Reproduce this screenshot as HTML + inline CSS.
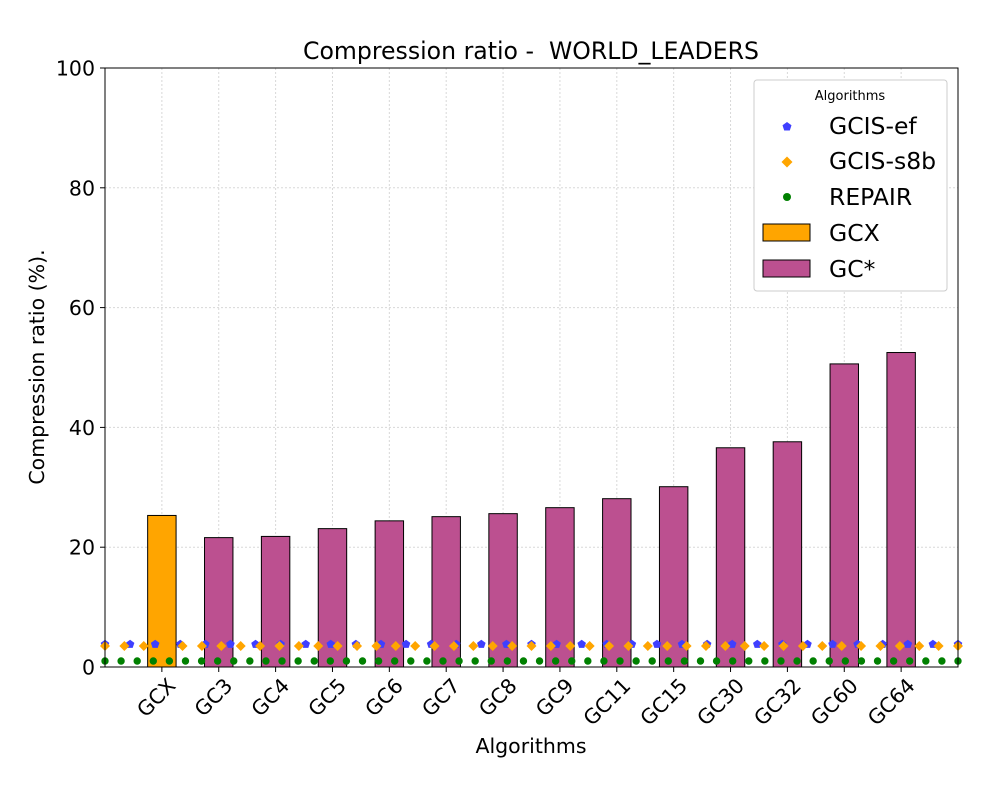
<!DOCTYPE html>
<html><head><meta charset="utf-8"><style>
body{margin:0;background:#fff;font-family:"Liberation Sans","DejaVu Sans",sans-serif}
svg text{font-family:"DejaVu Sans","Liberation Sans",sans-serif}
</style></head><body>
<svg id="c" width="1000" height="800" xmlns="http://www.w3.org/2000/svg">
<rect width="1000" height="800" fill="#fff"/>
<g id="grid"></g><g id="bars"></g><g id="marks"></g><g id="axes"></g>
<text x="531" y="59" text-anchor="middle" font-size="23.6" style="white-space:pre">Compression ratio -  WORLD_LEADERS</text>
<text x="531" y="753" text-anchor="middle" font-size="20.5">Algorithms</text>
<text transform="translate(44,367) rotate(-90)" text-anchor="middle" font-size="20.5">Compression ratio (%).</text>
<g>
<rect x="754" y="80" width="193" height="211" rx="3" fill="#fff" stroke="#ccc"/>
<text x="850" y="100" text-anchor="middle" font-size="13">Algorithms</text>
<g><polygon points="787,122 791.5,125.3 789.8,130.5 784.2,130.5 782.5,125.3" fill="#3f3fff"/><text x="829" y="134" font-size="23.5">GCIS-ef</text></g>
<g><polygon points="787,156.5 792.5,162 787,167.5 781.5,162" fill="#ffa500"/><text x="829" y="169" font-size="23.5">GCIS-s8b</text></g>
<g><circle cx="787" cy="197" r="4" fill="green"/><text x="829" y="205" font-size="23.5">REPAIR</text></g>
<g><rect x="763" y="224" width="47" height="17" fill="#ffa500" stroke="#000"/><text x="829" y="241" font-size="23.5">GCX</text></g>
<g><rect x="763" y="260" width="47" height="17" fill="#bc5090" stroke="#000"/><text x="829" y="277" font-size="23.5">GC*</text></g>
</g>
</svg>
<script>
const categories=["GCX","GC3","GC4","GC5","GC6","GC7","GC8","GC9","GC11","GC15","GC30","GC32","GC60","GC64"];
const barValues=[25.3,21.6,21.8,23.1,24.4,25.1,25.6,26.6,28.1,30.1,36.6,37.6,50.6,52.5];
const yTicks=[0,20,40,60,80,100];
const gcisEf=[3.8,3.8,3.8,3.8,3.8,3.8,3.8,3.8,3.8,3.8,3.8,3.8,3.8,3.8,3.8,3.8,3.8,3.8,3.8,3.8,3.8,3.8,3.8,3.8,3.8,3.8,3.8,3.8,3.8,3.8,3.8,3.8,3.8,3.8,3.8];
const gcisS8b=[3.5,3.5,3.5,3.5,3.5,3.5,3.5,3.5,3.5,3.5,3.5,3.5,3.5,3.5,3.5,3.5,3.5,3.5,3.5,3.5,3.5,3.5,3.5,3.5,3.5,3.5,3.5,3.5,3.5,3.5,3.5,3.5,3.5,3.5,3.5,3.5,3.5,3.5,3.5,3.5,3.5,3.5,3.5,3.5,3.5];
const repair=[1,1,1,1,1,1,1,1,1,1,1,1,1,1,1,1,1,1,1,1,1,1,1,1,1,1,1,1,1,1,1,1,1,1,1,1,1,1,1,1,1,1,1,1,1,1,1,1,1,1,1,1,1,1];
const L=105,R=958,T=68,B=667,XMIN=-1,XMAX=14,YMAX=100;
const xs=v=>L+(v-XMIN)/(XMAX-XMIN)*(R-L);
const ys=v=>B-v/YMAX*(B-T);
const NS="http://www.w3.org/2000/svg";
function mk(p,t,a){const e=document.createElementNS(NS,t);for(const k in a)e.setAttribute(k,a[k]);document.getElementById(p).appendChild(e);return e;}
yTicks.forEach(t=>{const g=mk("grid","line",{x1:L,x2:R,y1:ys(t),y2:ys(t),stroke:"#d8d8d8","stroke-dasharray":"2,2"});

});
categories.forEach((c,i)=>{const g=mk("grid","line",{x1:xs(i),x2:xs(i),y1:T,y2:B,stroke:"#d8d8d8","stroke-dasharray":"2,2"});

});
const bw=(xs(0.25)-xs(-0.25));
barValues.forEach((v,i)=>{const b=mk("bars","rect",{x:xs(i)-bw/2,y:ys(v),width:bw,height:ys(0)-ys(v),fill:i==0?"#ffa500":"#bc5090",stroke:"#000","stroke-width":1});

});
function series(arr,draw,name){const n=arr.length;arr.forEach((v,i)=>{const x=xs(XMIN+i*(XMAX-XMIN)/(n-1)),y=ys(v);const e=draw(x,y);

});}
series(gcisEf,(x,y)=>mk("marks","polygon",{points:`${x},${y-4.5} ${x+4.3},${y-1.4} ${x+2.6},${y+3.6} ${x-2.6},${y+3.6} ${x-4.3},${y-1.4}`,fill:"#3f3fff"}),"gcis-ef");
series(gcisS8b,(x,y)=>mk("marks","polygon",{points:`${x},${y-5} ${x+5},${y} ${x},${y+5} ${x-5},${y}`,fill:"#ffa500"}),"gcis-s8b");
series(repair,(x,y)=>mk("marks","circle",{cx:x,cy:y,r:3.7,fill:"green"}),"repair");
mk("axes","rect",{x:L,y:T,width:R-L,height:B-T,fill:"none",stroke:"#000","stroke-width":1});
yTicks.forEach(t=>{mk("axes","line",{x1:L-5,x2:L,y1:ys(t),y2:ys(t),stroke:"#000"});
const tx=mk("axes","text",{x:L-10,y:ys(t)+7.5,"text-anchor":"end","font-size":"20.5"});tx.textContent=t;

});
categories.forEach((c,i)=>{const x=xs(i);mk("axes","line",{x1:x,x2:x,y1:B,y2:B+5,stroke:"#000"});
const tx=mk("axes","text",{transform:`translate(${x+15},${B+20}) rotate(-45)`,"text-anchor":"end","font-size":"20.5"});tx.textContent=c;

});
</script>
</body></html>
